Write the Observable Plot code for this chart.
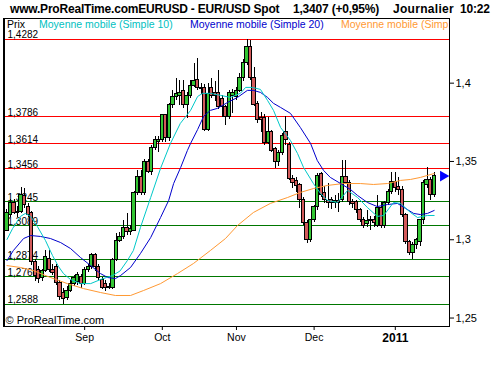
<!DOCTYPE html>
<html><head><meta charset="utf-8">
<script src="https://cdn.jsdelivr.net/npm/d3@7"></script>
<script src="https://cdn.jsdelivr.net/npm/@observablehq/plot@0.6"></script>
<style>
body{margin:0;background:#fff;}
#wrap{position:relative;width:500px;height:370px;overflow:hidden;font-family:'Liberation Sans',Arial,sans-serif;background:#fff}
#chart{position:absolute;left:0;top:0}
.t{position:absolute;white-space:nowrap;line-height:1}
.title{font-weight:bold;font-size:12px;letter-spacing:-0.2px;top:3px;color:#000}
#legend{position:absolute;left:3px;top:20.4px;width:446px;height:8px;font-size:10.5px}
#legend span{position:absolute;top:0;white-space:nowrap;line-height:8px;height:8px}
</style></head><body>
<div id="wrap">
  <div id="chart"></div>
  <div class="t title" style="left:10px">www.ProRealTime.comEURUSD - EUR/USD Spot</div>
  <div class="t title" style="left:293px">1,3407 (+0,95%)</div>
  <div class="t title" style="left:393px;letter-spacing:0.3px">Journalier</div>
  <div class="t title" style="left:460px">10:22</div>
  <div id="legend"></div>
</div>
<script>
// ---- data (daily EUR/USD candles, index = trading day) ----
const opens  = [1.3059,1.3155,1.3232,1.3174,1.3176,1.3277,1.3208,1.3168,1.2857,1.2810,1.2755,1.2800,1.2880,1.2810,1.2823,1.2727,1.2660,1.2630,1.2672,1.2716,1.2730,1.2760,1.2720,1.2806,1.2823,1.2900,1.2823,1.2740,1.2720,1.2695,1.2695,1.2868,1.2995,1.3017,1.3072,1.3047,1.3059,1.3296,1.3400,1.3296,1.3496,1.3432,1.3583,1.3625,1.3634,1.3794,1.3647,1.3858,1.3911,1.3921,1.3953,1.3858,1.3921,1.3985,1.4023,1.3972,1.3966,1.3698,1.3966,1.3940,1.3940,1.3902,1.3845,1.3781,1.3921,1.3910,1.3953,1.4030,1.4126,1.4228,1.4030,1.3870,1.3780,1.3775,1.3621,1.3685,1.3577,1.3494,1.3551,1.3685,1.3602,1.3391,1.3375,1.3347,1.3251,1.3104,1.2996,1.3123,1.3206,1.3423,1.3296,1.3250,1.3251,1.3232,1.3245,1.3251,1.3398,1.3360,1.3238,1.3238,1.3187,1.3123,1.3100,1.3125,1.3125,1.3091,1.3200,1.3091,1.3232,1.3302,1.3366,1.3340,1.3315,1.3155,1.2983,1.2913,1.2964,1.2983,1.3123,1.3350,1.3380,1.3283];
const highs  = [1.3195,1.3255,1.3260,1.3210,1.3336,1.3328,1.3232,1.3180,1.2875,1.2830,1.2810,1.2932,1.2932,1.2840,1.2840,1.2740,1.2690,1.2700,1.2740,1.2770,1.2790,1.2780,1.2820,1.2840,1.2910,1.2910,1.2840,1.2760,1.2740,1.2720,1.2880,1.3040,1.3045,1.3123,1.3168,1.3090,1.3306,1.3443,1.3440,1.3510,1.3510,1.3600,1.3660,1.3660,1.3800,1.3800,1.3870,1.3953,1.4030,1.4015,1.4017,1.3940,1.4017,1.4126,1.4158,1.4000,1.3990,1.3996,1.4030,1.4010,1.4081,1.3920,1.3860,1.3950,1.3960,1.3970,1.4060,1.4150,1.4282,1.4270,1.4100,1.3880,1.3813,1.3800,1.3780,1.3700,1.3590,1.3570,1.3680,1.3785,1.3620,1.3410,1.3400,1.3360,1.3270,1.3120,1.3130,1.3220,1.3423,1.3430,1.3340,1.3359,1.3270,1.3280,1.3296,1.3506,1.3506,1.3380,1.3260,1.3250,1.3200,1.3140,1.3187,1.3150,1.3150,1.3283,1.3240,1.3245,1.3320,1.3430,1.3430,1.3400,1.3340,1.3170,1.2995,1.2980,1.3010,1.3130,1.3380,1.3462,1.3398,1.3430];
const lows   = [1.3050,1.3140,1.3160,1.3140,1.3165,1.3200,1.3140,1.2836,1.2735,1.2720,1.2735,1.2790,1.2790,1.2770,1.2710,1.2610,1.2588,1.2610,1.2660,1.2700,1.2710,1.2689,1.2710,1.2790,1.2810,1.2800,1.2740,1.2680,1.2670,1.2680,1.2680,1.2860,1.2980,1.3000,1.3030,1.3030,1.3050,1.3280,1.3280,1.3280,1.3423,1.3410,1.3570,1.3559,1.3620,1.3620,1.3630,1.3840,1.3890,1.3858,1.3840,1.3775,1.3900,1.3970,1.3950,1.3930,1.3690,1.3690,1.3900,1.3880,1.3830,1.3781,1.3730,1.3770,1.3806,1.3890,1.3940,1.4010,1.4110,1.4020,1.3850,1.3745,1.3685,1.3600,1.3610,1.3560,1.3456,1.3470,1.3540,1.3600,1.3380,1.3330,1.3302,1.3200,1.3090,1.2977,1.2980,1.3110,1.3190,1.3270,1.3230,1.3200,1.3195,1.3200,1.3174,1.3240,1.3350,1.3219,1.3200,1.3170,1.3110,1.3072,1.3080,1.3059,1.3080,1.3080,1.3070,1.3075,1.3220,1.3290,1.3300,1.3280,1.3140,1.2970,1.2900,1.2874,1.2940,1.2960,1.3100,1.3330,1.3250,1.3270];
const closes = [1.3174,1.3232,1.3174,1.3180,1.3283,1.3219,1.3155,1.2857,1.2770,1.2750,1.2800,1.2887,1.2804,1.2790,1.2727,1.2632,1.2620,1.2672,1.2720,1.2755,1.2772,1.2720,1.2804,1.2823,1.2900,1.2823,1.2753,1.2695,1.2690,1.2700,1.2868,1.2995,1.3017,1.3072,1.3047,1.3066,1.3296,1.3400,1.3296,1.3496,1.3432,1.3583,1.3634,1.3640,1.3794,1.3647,1.3858,1.3911,1.3930,1.3940,1.3858,1.3921,1.3985,1.4017,1.3972,1.3960,1.3698,1.3934,1.3921,1.3921,1.3845,1.3845,1.3781,1.3940,1.3940,1.3953,1.4036,1.4126,1.4228,1.4030,1.3858,1.3762,1.3762,1.3615,1.3685,1.3570,1.3494,1.3551,1.3660,1.3640,1.3391,1.3360,1.3345,1.3251,1.3104,1.2996,1.3123,1.3206,1.3410,1.3283,1.3251,1.3235,1.3232,1.3245,1.3235,1.3398,1.3360,1.3238,1.3226,1.3187,1.3123,1.3091,1.3120,1.3117,1.3110,1.3200,1.3091,1.3232,1.3302,1.3366,1.3330,1.3315,1.3155,1.2983,1.2913,1.2964,1.2996,1.3123,1.3360,1.3380,1.3283,1.3407];

// moving averages: [trading-day index, value]
const sma10 = [[0,1.3002],[1.6,1.3072],[3.8,1.3149],[5.2,1.3168],[6.7,1.3149],[8.6,1.3085],[10.9,1.2995],[12.9,1.2899],[14.6,1.2829],[16,1.2784],[18,1.2746],[20.8,1.2720],[23.7,1.2720],[26.5,1.2746],[28.2,1.2759],[29.9,1.2772],[32,1.2800],[34.1,1.2867],[35.8,1.2931],[37.8,1.3078],[40.7,1.3270],[43.5,1.3456],[46.3,1.3615],[49.1,1.3743],[52,1.3826],[54,1.3915],[55.4,1.3935],[57.6,1.3935],[60.5,1.3922],[63.3,1.3909],[66.1,1.3935],[67.6,1.3973],[69.5,1.3973],[71.8,1.3960],[73.8,1.3890],[75.5,1.3826],[77.5,1.3717],[80.3,1.3634],[82.3,1.3551],[84,1.3462],[86.8,1.3359],[88.8,1.3296],[90.8,1.3251],[93.6,1.3238],[96.5,1.3315],[99.3,1.3270],[102.1,1.3206],[104.9,1.3149],[106.7,1.3155],[109.5,1.3238],[111.5,1.3232],[114.3,1.3174],[116.3,1.3142],[119.1,1.3155],[121,1.3155]];
const sma20 = [[0,1.2867],[1.8,1.2931],[4.7,1.3008],[6.7,1.3027],[9.5,1.3021],[12.3,1.3008],[15.2,1.2982],[18,1.2944],[20.8,1.2887],[23.7,1.2835],[26.5,1.2784],[28.5,1.2759],[30.7,1.2752],[32.2,1.2772],[35,1.2823],[37.8,1.2912],[40.7,1.3014],[43.5,1.3142],[45.8,1.3251],[47.2,1.3359],[49.2,1.3462],[51.1,1.3570],[52,1.3615],[54,1.3704],[55.7,1.3788],[57.6,1.3826],[59.6,1.3839],[62.5,1.3877],[65.3,1.3909],[68.1,1.3954],[69.8,1.3954],[71.8,1.3941],[73.8,1.3909],[75.5,1.3871],[77.5,1.3845],[80.3,1.3807],[83.1,1.3717],[86,1.3615],[87.9,1.3506],[89.7,1.3442],[91.6,1.3398],[94.5,1.3359],[97.3,1.3321],[99.3,1.3283],[102.1,1.3238],[104.9,1.3212],[107.8,1.3225],[110.6,1.3232],[112.9,1.3200],[115.2,1.3168],[117.1,1.3161],[119.1,1.3168],[121,1.3187]];
const sma100 = [[0,1.2835],[3.8,1.2823],[7.5,1.2803],[12.3,1.2759],[17.1,1.2720],[21.7,1.2688],[26.5,1.2663],[30.7,1.2644],[35,1.2644],[38.7,1.2676],[43.5,1.2720],[48.3,1.2784],[52.8,1.2848],[57.6,1.2931],[61.9,1.3008],[65.3,1.3091],[69.8,1.3174],[74.6,1.3232],[79.5,1.3270],[83.1,1.3302],[86.8,1.3327],[90.8,1.3347],[95.3,1.3359],[100.1,1.3359],[103.8,1.3353],[107.8,1.3359],[111.5,1.3379],[114.3,1.3385],[117.1,1.3398],[121,1.3423]];

const redLevels   = [1.4282, 1.3786, 1.3614, 1.3456];
const greenLevels = [1.3245, 1.3089, 1.2874, 1.2766, 1.2588];
const yTicks = [1.25, 1.3, 1.35, 1.4];
const monthTickIdx = [22, 44, 65, 87];
const monthLabels  = ["Sep", "Oct", "Nov", "Dec"];
const yearTickIdx = [110];
const yearLabels  = ["2011"];
const lastPrice = 1.3407;
const legendItems = ["Prix", "Moyenne mobile (Simple 10)", "Moyenne mobile (Simple 20)", "Moyenne mobile (Simp"];
const copyright = "© ProRealTime.com";

// ---- drawing ----
const legendColors = ["#000000", "#00bfbf", "#0000cc", "#ff9933"];
const legendLeft = [4, 36, 187, 338];
const leg = document.getElementById("legend");
legendItems.forEach((t, k) => {
  const s = document.createElement("span");
  s.textContent = t; s.style.left = legendLeft[k] + "px"; s.style.color = legendColors[k];
  leg.appendChild(s);
});

const candles = d3.range(opens.length).map(i => ({i, o: opens[i], h: highs[i], l: lows[i], c: closes[i]}));
const fmtLevel = v => v.toFixed(4).replace(".", ",");
const fmtAxis = v => String(v).replace(".", ",");
const monthOf = new Map(monthTickIdx.map((d, k) => [d, monthLabels[k]]));
const yearOf = new Map(yearTickIdx.map((d, k) => [d, yearLabels[k]]));

const chart = Plot.plot({
  width: 500, height: 370,
  marginTop: 18, marginRight: 51, marginBottom: 44, marginLeft: 3,
  x: {domain: [-0.99, 125.35]},
  y: {domain: [1.2446, 1.4413]},
  style: {fontFamily: "'Liberation Sans', Arial, sans-serif", fontSize: "10.5px", background: "white", color: "black"},
  marks: [
    Plot.ruleY(redLevels, {y: d => d, stroke: "#ff0000", shapeRendering: "crispEdges"}),
    Plot.ruleY(greenLevels, {y: d => d, stroke: "#007700", shapeRendering: "crispEdges"}),
    Plot.text(redLevels.concat(greenLevels), {y: d => d, text: fmtLevel, frameAnchor: "left", dx: 4, dy: -0.8, textAnchor: "start", lineAnchor: "bottom", fill: "black", fontSize: 10}),
    Plot.text([copyright], {text: d => d, frameAnchor: "bottom-left", dx: 2, dy: -3, textAnchor: "start", lineAnchor: "bottom", fill: "black", fontSize: 11}),
    Plot.ruleX(candles, {x: "i", y1: "l", y2: "h", stroke: "black", shapeRendering: "crispEdges"}),
    Plot.rect(candles, {x1: d => d.i - 0.46, x2: d => d.i + 0.46, y1: "o", y2: "c",
      fill: d => d.c >= d.o ? "#33c633" : "#d25a5a", stroke: "black", strokeWidth: 1, shapeRendering: "crispEdges"}),
    Plot.line(sma100, {x: d => d[0], y: d => d[1], stroke: "#ff9933", strokeWidth: 1}),
    Plot.line(sma20, {x: d => d[0], y: d => d[1], stroke: "#0000cc", strokeWidth: 1}),
    Plot.line(sma10, {x: d => d[0], y: d => d[1], stroke: "#00c8c8", strokeWidth: 1}),
    Plot.dot([lastPrice], {x: () => candles.length - 1, y: d => d, symbol: "triangle", r: 4, rotate: 90, fill: "#0000ff", stroke: "none", dx: 9}),
    Plot.frame({stroke: "black"}),
    Plot.ruleX([-0.99], {stroke: "black", strokeWidth: 2, dx: 0.5}),
    Plot.axisY(yTicks, {anchor: "right", tickSize: 4, tickPadding: 2, tickFormat: fmtAxis, label: null, fontSize: 11}),
    Plot.axisX(monthTickIdx, {anchor: "bottom", tickSize: 4, tickPadding: 3, tickFormat: d => monthOf.get(d), label: null, fontSize: 10.5}),
    Plot.axisX(yearTickIdx, {anchor: "bottom", tickSize: 4, tickPadding: 3, tickFormat: d => yearOf.get(d), label: null, fontSize: 12, fontWeight: "bold"})
  ]
});
document.getElementById("chart").appendChild(chart);
</script>
</body></html>
